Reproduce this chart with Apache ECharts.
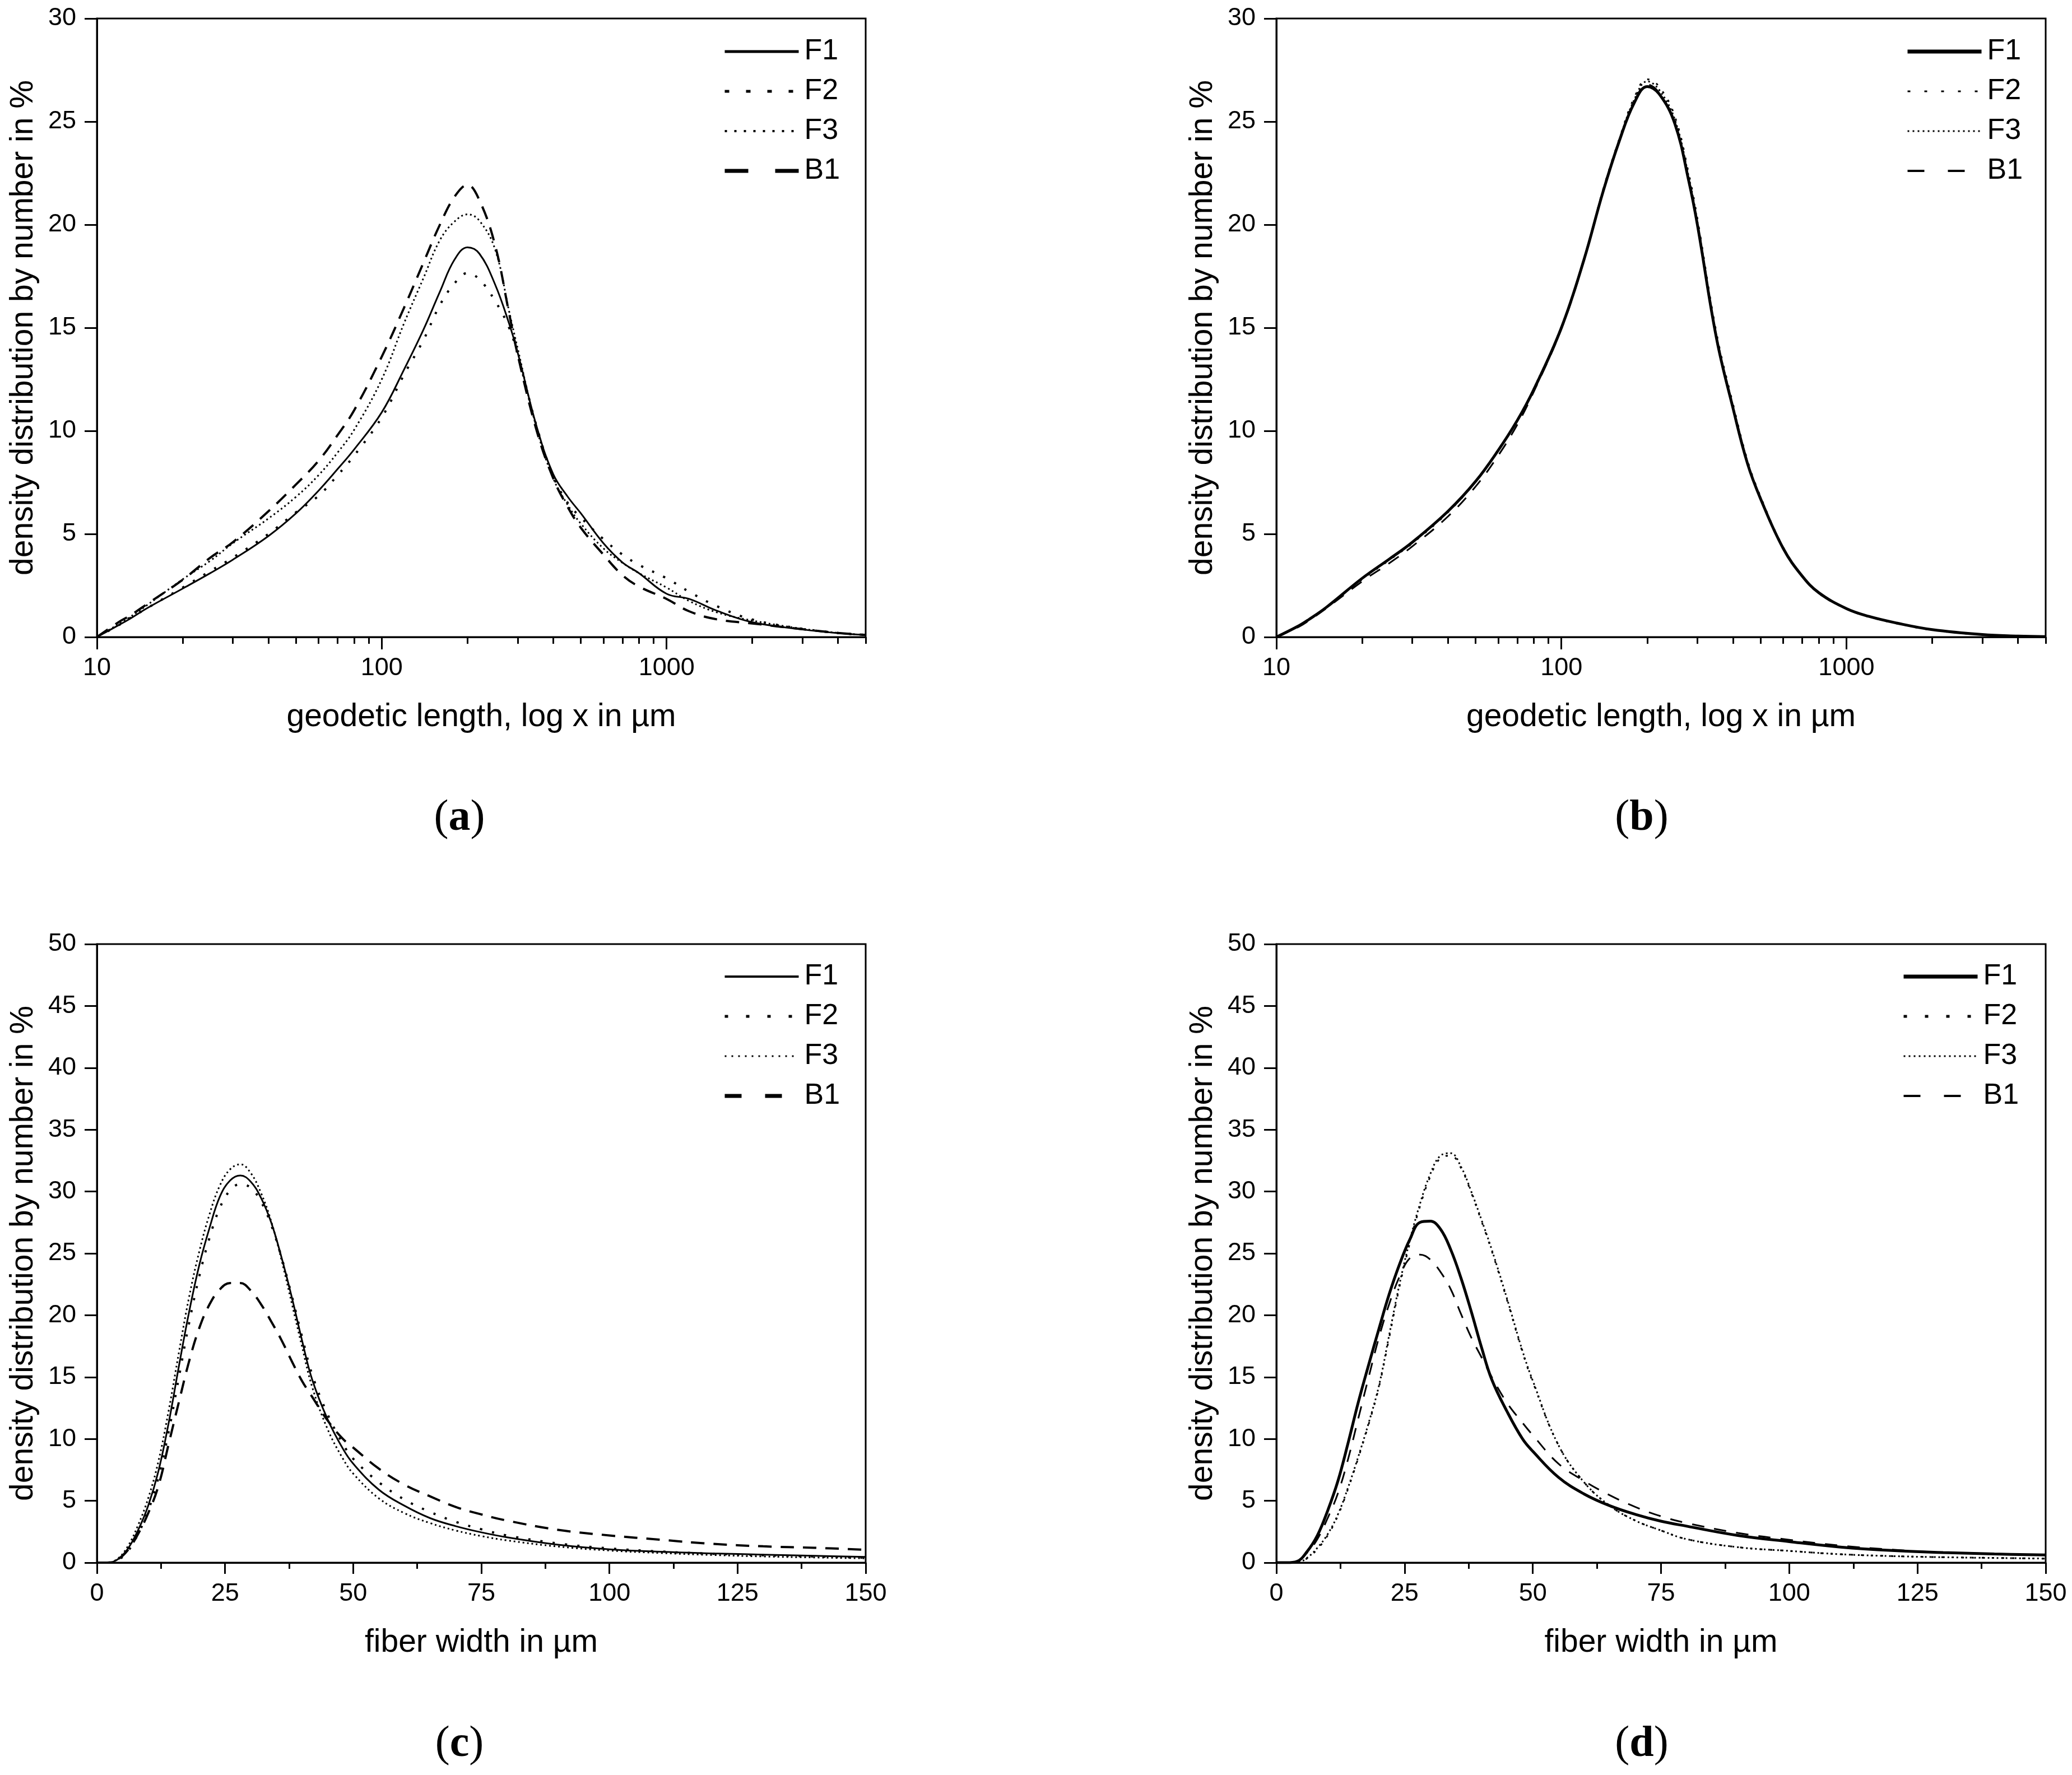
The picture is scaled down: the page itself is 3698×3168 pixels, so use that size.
<!DOCTYPE html>
<html>
<head>
<meta charset="utf-8">
<script src="https://cdn.jsdelivr.net/npm/echarts@6/dist/echarts.min.js"></script>
<style>
  html, body { margin: 0; padding: 0; background: #fff; }
  #chart { width: 3698px; height: 3168px; }
</style>
</head>
<body>
<div id="chart"></div>
<script>
// geodetic length grid (µm), panels (a) and (b)
const lengthGrid = [10, 12, 13, 15, 20, 25, 30, 40, 50, 60, 70, 80, 100, 120, 140, 160, 180, 200, 220, 250, 280, 300, 350, 400, 450, 500, 600, 700, 800, 1000, 1200, 1500, 2000, 3000, 4000, 5000];
const aF1 = [0, 0.6, 0.87, 1.4, 2.35, 3.1, 3.75, 4.9, 6.0, 7.1, 8.15, 9.1, 10.9, 13.0, 14.9, 16.75, 18.3, 18.9, 18.6, 17.1, 15.2, 13.8, 10.2, 7.9, 6.8, 6.0, 4.55, 3.62, 3.1, 2.1, 1.85, 1.28, 0.72, 0.37, 0.19, 0.1];
const aF2 = [0, 0.6, 0.9, 1.4, 2.4, 3.2, 3.85, 5.0, 6.05, 6.85, 7.85, 8.8, 10.65, 12.75, 14.4, 16.1, 17.15, 17.65, 17.35, 16.3, 15.0, 13.7, 10.2, 7.8, 6.5, 5.8, 4.75, 4.0, 3.5, 2.85, 2.2, 1.5, 0.85, 0.4, 0.2, 0.1];
const aF3 = [0, 0.65, 0.95, 1.55, 2.8, 3.7, 4.55, 5.75, 6.8, 7.85, 8.95, 10.05, 12.5, 15.25, 17.4, 19.25, 20.15, 20.5, 20.2, 18.8, 15.8, 14.0, 10.1, 7.7, 6.4, 5.5, 4.3, 3.6, 3.1, 2.4, 1.75, 1.2, 0.8, 0.4, 0.2, 0.1];
const aB1 = [0, 0.75, 1.02, 1.6, 2.78, 3.85, 4.6, 6.1, 7.4, 8.55, 9.8, 11.0, 13.6, 16.0, 18.15, 20.0, 21.35, 21.93, 21.2, 19.0, 15.7, 13.7, 10.0, 7.7, 6.3, 5.3, 4.0, 3.0, 2.45, 1.85, 1.25, 0.86, 0.66, 0.38, 0.2, 0.1];

const bF1 = [0, 0.55, 0.85, 1.45, 2.85, 3.8, 4.6, 6.1, 7.55, 9.05, 10.5, 12.0, 15.0, 18.3, 21.6, 24.1, 25.9, 26.7, 26.35, 24.9, 22.1, 20.0, 14.5, 11.1, 8.4, 6.7, 4.3, 2.95, 2.15, 1.38, 1.0, 0.68, 0.36, 0.12, 0.05, 0.02];
const bF2 = [0, 0.55, 0.85, 1.45, 2.8, 3.75, 4.55, 6.05, 7.55, 9.05, 10.5, 12.0, 15.0, 18.3, 21.7, 24.2, 26.15, 27.05, 26.7, 25.25, 22.45, 20.3, 14.75, 11.3, 8.55, 6.8, 4.35, 2.95, 2.12, 1.36, 0.98, 0.66, 0.34, 0.11, 0.04, 0.02];
const bF3 = [0, 0.55, 0.85, 1.45, 2.85, 3.8, 4.6, 6.1, 7.55, 9.05, 10.5, 12.05, 15.05, 18.35, 21.65, 24.15, 26.05, 26.95, 26.55, 25.1, 22.3, 20.15, 14.6, 11.2, 8.45, 6.75, 4.3, 2.95, 2.15, 1.38, 1.0, 0.68, 0.36, 0.12, 0.05, 0.02];
const bB1 = [0, 0.5, 0.8, 1.4, 2.7, 3.6, 4.4, 5.85, 7.3, 8.8, 10.3, 11.9, 14.95, 18.25, 21.6, 24.1, 25.95, 26.8, 26.4, 24.95, 22.15, 20.05, 14.5, 11.1, 8.4, 6.7, 4.3, 2.95, 2.15, 1.38, 1.0, 0.68, 0.36, 0.12, 0.05, 0.02];

// fiber width grid (µm), panels (c) and (d)
const widthGrid = [0, 2, 4, 6, 8, 10, 12, 14, 16, 18, 20, 22, 24, 26, 28, 30, 32, 34, 36, 38, 40, 42, 45, 48, 50, 55, 60, 65, 70, 75, 80, 90, 100, 110, 120, 130, 140, 150];
const cF1 = [0, 0, 0.25, 1.1, 2.6, 4.6, 7.4, 11.3, 15.9, 20.3, 24.1, 27.1, 29.6, 30.9, 31.3, 30.8, 29.5, 27.5, 24.7, 21.5, 18.0, 14.8, 11.6, 9.2, 8.0, 5.9, 4.6, 3.6, 2.95, 2.45, 2.05, 1.45, 1.08, 0.88, 0.75, 0.65, 0.55, 0.46];
const cF2 = [0, 0, 0.2, 0.9, 2.3, 4.2, 6.9, 10.6, 15.0, 19.4, 23.2, 26.3, 28.7, 30.1, 30.6, 30.3, 29.2, 27.3, 24.7, 21.6, 18.3, 15.2, 12.0, 9.6, 8.4, 6.5, 5.1, 4.1, 3.3, 2.7, 2.2, 1.55, 1.15, 0.9, 0.72, 0.6, 0.5, 0.4];
const cF3 = [0, 0, 0.3, 1.3, 3.0, 5.2, 8.2, 12.3, 17.0, 21.5, 25.2, 28.2, 30.5, 31.8, 32.2, 31.5, 29.9, 27.6, 24.5, 21.0, 17.5, 14.2, 10.8, 8.4, 7.2, 5.2, 4.0, 3.2, 2.6, 2.15, 1.8, 1.3, 0.98, 0.78, 0.62, 0.5, 0.42, 0.35];
const cB1 = [0, 0, 0.25, 1.0, 2.3, 4.0, 6.2, 9.6, 13.0, 16.3, 19.0, 20.9, 22.1, 22.6, 22.6, 22.0, 20.9, 19.5, 18.0, 16.3, 14.7, 13.4, 11.5, 10.0, 9.3, 7.6, 6.3, 5.36, 4.5, 3.9, 3.4, 2.65, 2.2, 1.85, 1.52, 1.32, 1.2, 1.04];

const dF1 = [0, 0, 0.1, 0.9, 2.2, 4.2, 6.6, 9.7, 13.0, 16.0, 18.9, 21.7, 24.1, 26.1, 27.5, 27.6, 26.96, 25.3, 23.0, 20.3, 17.4, 14.8, 12.2, 10.0, 9.0, 6.9, 5.55, 4.6, 3.9, 3.35, 2.95, 2.2, 1.7, 1.26, 0.98, 0.82, 0.7, 0.62];
const dF2 = [0, 0, 0, 0.35, 1.1, 2.2, 3.8, 6.0, 8.5, 11.2, 14.2, 18.2, 22.3, 25.8, 28.8, 31.2, 32.7, 32.9, 31.9, 29.9, 27.6, 25.2, 21.2, 17.0, 14.6, 9.5, 6.5, 4.6, 3.4, 2.6, 1.9, 1.25, 0.95, 0.68, 0.53, 0.44, 0.38, 0.33];
const dF3 = [0, 0, 0, 0.4, 1.2, 2.3, 3.9, 6.1, 8.6, 11.3, 14.3, 18.4, 22.5, 26.0, 29.0, 31.4, 32.9, 33.1, 32.0, 30.0, 27.7, 25.3, 21.3, 17.1, 14.7, 9.5, 6.5, 4.6, 3.4, 2.6, 1.9, 1.25, 0.95, 0.68, 0.53, 0.44, 0.38, 0.33];
const dB1 = [0, 0, 0.1, 0.8, 1.9, 3.6, 5.6, 8.4, 11.7, 15.0, 18.2, 20.9, 23.1, 24.6, 24.9, 24.5, 23.5, 22.1, 20.1, 18.2, 16.6, 15.0, 12.9, 11.3, 10.3, 8.0, 6.6, 5.45, 4.5, 3.75, 3.2, 2.4, 1.85, 1.38, 1.05, 0.82, 0.7, 0.62];

// axis ticks
const lengthMajorTicks = [10, 100, 1000];
const lengthMinorTicks = [20, 30, 40, 50, 60, 70, 80, 90, 200, 300, 400, 500, 600, 700, 800, 900, 2000, 3000, 4000, 5000];
const seriesNames = ['F1', 'F2', 'F3', 'B1'];
const captions = ['a', 'b', 'c', 'd'];

const font = 'Liberation Sans';
const ink = '#000';
const axisLine = { color: ink, width: 3 };

const grids = [
  { left: 173, top: 33, width: 1372, height: 1104 },
  { left: 2278, top: 33, width: 1373, height: 1104 },
  { left: 173, top: 1685, width: 1372, height: 1104 },
  { left: 2278, top: 1685, width: 1373, height: 1104 }
].map(g => ({ ...g, show: true, borderColor: ink, borderWidth: 3, containLabel: false }));

const xName = (text) => ({
  name: text, nameLocation: 'middle', nameGap: 115,
  nameTextStyle: { fontFamily: font, fontSize: 57, color: ink }
});
const tickLabel = { fontFamily: font, fontSize: 45, color: ink, margin: 33 };

// log length axis: labels on the log axis, ticks drawn by two overlay axes in log10 space
function lengthAxes(gridIndex) {
  const lo = Math.log10(10), hi = Math.log10(5000);
  return [
    {
      type: 'log', logBase: 10, min: 10, max: 5000, gridIndex, position: 'bottom',
      ...xName('geodetic length, log x in µm'),
      axisLine: { show: true, lineStyle: axisLine },
      axisTick: { show: false },
      axisLabel: { ...tickLabel, showMaxLabel: false, formatter: v => String(Math.round(v)) },
      splitLine: { show: false }
    },
    {
      type: 'value', min: lo, max: hi, gridIndex, position: 'bottom',
      axisLine: { show: false }, axisLabel: { show: false }, splitLine: { show: false },
      axisTick: { show: true, length: 22, lineStyle: axisLine, customValues: lengthMajorTicks.map(Math.log10) }
    },
    {
      type: 'value', min: lo, max: hi, gridIndex, position: 'bottom',
      axisLine: { show: false }, axisLabel: { show: false }, splitLine: { show: false },
      axisTick: { show: true, length: 12, lineStyle: axisLine, customValues: lengthMinorTicks.map(Math.log10) }
    }
  ];
}

function widthAxis(gridIndex) {
  return {
    type: 'value', min: 0, max: 150, interval: 25, gridIndex, position: 'bottom',
    ...xName('fiber width in µm'),
    axisLine: { show: true, onZero: false, lineStyle: axisLine },
    axisTick: { show: true, length: 20, lineStyle: axisLine },
    minorTick: { show: true, splitNumber: 2, length: 11, lineStyle: axisLine },
    axisLabel: tickLabel,
    splitLine: { show: false }, minorSplitLine: { show: false }
  };
}

function yAxisFor(gridIndex, max) {
  return {
    type: 'value', min: 0, max, interval: 5, gridIndex,
    name: 'density distribution by number in %', nameLocation: 'middle', nameGap: 102,
    nameTextStyle: { fontFamily: font, fontSize: 57, color: ink },
    axisLine: { show: true, lineStyle: axisLine },
    axisTick: { show: true, length: 22, lineStyle: axisLine },
    axisLabel: { fontFamily: font, fontSize: 45, color: ink, margin: 37 },
    splitLine: { show: false }
  };
}

const xAxes = [...lengthAxes(0), ...lengthAxes(1), widthAxis(2), widthAxis(3)];
const xIndexOf = [0, 3, 6, 7];
const yAxes = [yAxisFor(0, 30), yAxisFor(1, 30), yAxisFor(2, 50), yAxisFor(3, 50)];

// line looks per panel: plot stroke and legend stroke
const plotStyles = [
  { F1: { width: 3, type: 'solid' }, F2: { width: 4, type: [4, 18] }, F3: { width: 3, type: [3, 5] }, B1: { width: 4, type: [24, 16] } },
  { F1: { width: 5, type: 'solid' }, F2: { width: 3, type: [4, 14] }, F3: { width: 3, type: [3, 5] }, B1: { width: 3, type: [22, 18] } },
  { F1: { width: 3, type: 'solid' }, F2: { width: 4, type: [4, 18] }, F3: { width: 3, type: [3, 5] }, B1: { width: 4, type: [24, 16] } },
  { F1: { width: 5, type: 'solid' }, F2: { width: 3, type: [4, 14] }, F3: { width: 3, type: [3, 5] }, B1: { width: 3, type: [22, 18] } }
];
const legendStyles = [
  { F1: { width: 5, type: 'solid' }, F2: { width: 5, type: [8, 30] }, F3: { width: 4, type: [4, 13] }, B1: { width: 7, type: [42, 48] } },
  { F1: { width: 7, type: 'solid' }, F2: { width: 3, type: [5, 25] }, F3: { width: 3, type: [3, 6] }, B1: { width: 4, type: [30, 42] } },
  { F1: { width: 4, type: 'solid' }, F2: { width: 5, type: [6, 32] }, F3: { width: 3, type: [3, 9] }, B1: { width: 7, type: [30, 42] } },
  { F1: { width: 7, type: 'solid' }, F2: { width: 5, type: [6, 32] }, F3: { width: 3, type: [3, 6] }, B1: { width: 4, type: [30, 42] } }
];
const legendPos = [
  { left: 1285, top: 61 }, { left: 3396, top: 61 }, { left: 1285, top: 1712 }, { left: 3389, top: 1712 }
];

const panelData = [
  [lengthGrid, { F1: aF1, F2: aF2, F3: aF3, B1: aB1 }],
  [lengthGrid, { F1: bF1, F2: bF2, F3: bF3, B1: bB1 }],
  [widthGrid, { F1: cF1, F2: cF2, F3: cF3, B1: cB1 }],
  [widthGrid, { F1: dF1, F2: dF2, F3: dF3, B1: dB1 }]
];

const pts = (xs, ys) => xs.map((x, i) => [x, ys[i]]);

const series = [];
panelData.forEach(([xs, byName], p) => {
  seriesNames.forEach(name => {
    const st = plotStyles[p][name];
    series.push({
      name, type: 'line', xAxisIndex: xIndexOf[p], yAxisIndex: p,
      data: pts(xs, byName[name]),
      symbol: 'none', smooth: 0.4, color: ink, silent: true,
      lineStyle: { color: ink, width: st.width, type: st.type }
    });
  });
});

const legends = legendPos.map((pos, p) => ({
  ...pos, orient: 'vertical', selectedMode: false,
  itemWidth: 132, itemHeight: 20, itemGap: 19,
  textStyle: { fontFamily: font, fontSize: 52, lineHeight: 52, color: ink, padding: [0, 0, 0, 5] },
  data: seriesNames.map(name => ({
    name,
    itemStyle: { color: 'rgba(0,0,0,0)', borderWidth: 0, opacity: 0 },
    lineStyle: { color: ink, width: legendStyles[p][name].width, type: legendStyles[p][name].type }
  }))
}));

const captionPos = [[820, 1461], [2930, 1461], [820, 3114], [2930, 3114]];
const graphics = captionPos.map(([x, y], i) => ({
  type: 'text', x, y,
  style: {
    text: '{p|(}{b|' + captions[i] + '}{p|)}',
    align: 'center', verticalAlign: 'middle',
    rich: {
      p: { fontFamily: 'Liberation Serif', fontSize: 78, fill: ink },
      b: { fontFamily: 'Liberation Serif', fontSize: 78, fontWeight: 'bold', fill: ink }
    }
  }
}));

const chart = echarts.init(document.getElementById('chart'));
chart.setOption({
  animation: false,
  backgroundColor: '#fff',
  textStyle: { fontFamily: font },
  grid: grids,
  xAxis: xAxes,
  yAxis: yAxes,
  legend: legends,
  series,
  graphic: graphics
});
</script>
</body>
</html>
